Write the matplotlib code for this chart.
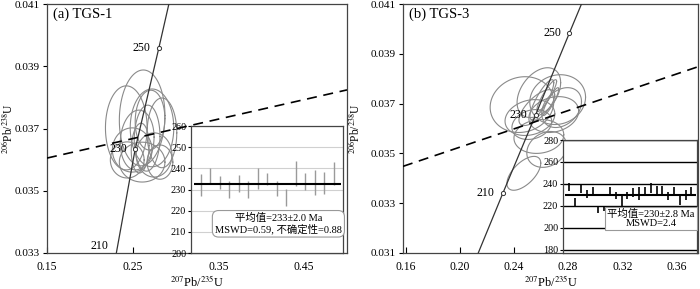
import numpy as np
import matplotlib
matplotlib.use('Agg')
import matplotlib.pyplot as plt

plt.rcParams['font.family'] = ['Liberation Serif', 'Noto Sans CJK SC']
plt.rcParams['mathtext.fontset'] = 'stix'

# === DATA ===
# panel (a) TGS-1
conc_a_x = [0.2309, 0.2529, 0.2806, 0.2922]
conc_a_y = [0.0330, 0.03634, 0.0396, 0.0410]
conc_a_age = [210, 230, 250, None]
disc_a_x = [0.15, 0.50]
disc_a_y = [0.03605, 0.03824]
ell_a_cx = [0.2610, 0.2425, 0.2725, 0.2841, 0.2552, 0.2668, 0.2494, 0.2749, 0.2610, 0.2436, 0.2818, 0.2587, 0.2702]
ell_a_cy = [0.03734, 0.03702, 0.03702, 0.03686, 0.03663, 0.03669, 0.03631, 0.03615, 0.03592, 0.03599, 0.03592, 0.03637, 0.03727]
ell_a_sx = [0.0266, 0.0243, 0.0254, 0.0173, 0.0197, 0.0150, 0.0231, 0.0208, 0.0266, 0.0197, 0.0150, 0.0104, 0.0173]
ell_a_sy = [0.00154, 0.00135, 0.00125, 0.00112, 0.00096, 0.00106, 0.00071, 0.00071, 0.00064, 0.00058, 0.00055, 0.0008, 0.00096]
ell_a_rho = [0.05, 0.0, 0.0, 0.0, 0.1, 0.05, 0.0, 0.0, 0.0, 0.0, 0.0, 0.1, 0.05]
age_a_hi = [237.3, 240.0, 236.5, 234.1, 236.8, 234.1, 240.0, 238.0, 234.1, 230.2, 243.6, 238.0, 239.3, 238.4, 243.1]
age_a_lo = [227.0, 232.5, 230.2, 226.2, 228.6, 226.2, 230.2, 232.0, 227.0, 222.3, 231.7, 229.7, 227.3, 228.1, 232.0]
mean_a = 232.7
text_a = '平均值=233±2.0 Ma\nMSWD=0.59, 不确定性=0.88'

# panel (b) TGS-3
conc_b_x = [0.2136, 0.2317, 0.2561, 0.2810, 0.2899]
conc_b_y = [0.0310, 0.03339, 0.03656, 0.03984, 0.0410]
conc_b_age = [None, 210, 230, 250, None]
disc_b_x = [0.158, 0.376]
disc_b_y = [0.03448, 0.03848]
ell_b_cx = [0.2459, 0.2723, 0.2584, 0.2606, 0.2642, 0.2672, 0.2569, 0.2518, 0.2694, 0.2584, 0.2642, 0.2473, 0.2532, 0.2752]
ell_b_cy = [0.03696, 0.03716, 0.03744, 0.03716, 0.03732, 0.03708, 0.03684, 0.03644, 0.03656, 0.03568, 0.03516, 0.0342, 0.03616, 0.03684]
ell_b_sx = [0.0235, 0.0206, 0.0161, 0.0088, 0.0073, 0.0059, 0.0132, 0.0184, 0.0184, 0.0184, 0.0147, 0.0125, 0.0147, 0.0147]
ell_b_sy = [0.00112, 0.0010, 0.0010, 0.0008, 0.00064, 0.00056, 0.00072, 0.00072, 0.00072, 0.00068, 0.00072, 0.00068, 0.0006, 0.0008]
ell_b_rho = [0.1, 0.1, 0.4, 0.85, 0.9, 0.9, 0.7, 0.2, 0.2, 0.1, 0.2, 0.6, 0.2, 0.3]
age_b_hi = [240.6, 227.0, 239.0, 234.5, 237.6, 220.0, 220.0, 237.6, 233.0, 230.0, 233.0, 236.0, 237.0, 237.6, 240.6, 238.5, 238.5, 233.0, 237.6, 230.0, 234.5, 237.6]
age_b_lo = [233.6, 219.4, 231.5, 227.0, 230.0, 213.3, 215.0, 230.6, 226.4, 219.4, 226.4, 228.5, 225.5, 230.6, 231.5, 230.6, 230.6, 225.5, 230.0, 221.0, 225.5, 230.0]
mean_b = 230.0
text_b = '平均值=230±2.8 Ma\nMSWD=2.4'


def draw_ellipses(ax, cx, cy, sx, sy, rho):
    t = np.linspace(0, 2 * np.pi, 120)
    for x0, y0, a, b, r in zip(cx, cy, sx, sy, rho):
        x = x0 + a * np.cos(t)
        y = y0 + b * (r * np.cos(t) + np.sqrt(1 - r * r) * np.sin(t))
        ax.plot(x, y, color='#8a8a8a', lw=0.8, zorder=2)


def draw_main(ax, conc_x, conc_y, ages, disc_x, disc_y, ell, xlim, ylim, xticks, yticks, title, ylab_x):
    draw_ellipses(ax, *ell)
    ax.plot(conc_x, conc_y, color='#333333', lw=0.9, zorder=3)
    for x, y, age in zip(conc_x, conc_y, ages):
        if age is None:
            continue
        at_edge = y <= ylim[0] + 1e-9
        if not at_edge:
            ax.plot(x, y, 'o', ms=3, mfc='white', mec='#333333', mew=0.7, zorder=4)
        ax.annotate(str(age), (x, y), xytext=(-6, 5 if at_edge else 0), textcoords='offset points',
                    ha='right', va='center', fontsize=8.6, zorder=4)
    ax.plot(disc_x, disc_y, color='black', lw=1.2, ls=(0, (6, 4)), zorder=3)
    ax.set_xlim(*xlim)
    ax.set_ylim(*ylim)
    ax.set_xticks(xticks)
    ax.set_xticklabels([f'{v:.2f}' for v in xticks])
    ax.set_yticks(yticks)
    ax.set_yticklabels([f'{v:.3f}' for v in yticks])
    ax.tick_params(axis='x', direction='in', length=4, pad=6, labelsize=8.4)
    ax.tick_params(axis='y', direction='out', length=3, pad=2, labelsize=8.1)
    ax.set_xlabel(r'$^{207}$Pb/$^{235}$U', fontsize=8.8)
    ax.set_ylabel(r'$^{206}$Pb/$^{238}$U', fontsize=8.3)
    ax.xaxis.set_label_coords(0.5, -0.085)
    ax.yaxis.set_label_coords(ylab_x, 0.5)
    for s in ax.spines.values():
        s.set_color('#444444')
        s.set_linewidth(0.9)
    ax.text(0.02, 0.985, title, transform=ax.transAxes, ha='left', va='top', fontsize=10.5)


def draw_inset(ax, hi, lo, mean, ylim, yticks, bar_color, grid_color, grid_lw, text, tx, ty, boxstyle):
    n = len(hi)
    idx = np.arange(1, n + 1)
    for g in yticks:
        ax.axhline(g, color=grid_color, lw=grid_lw, zorder=1)
    ax.vlines(idx, lo, hi, color=bar_color, lw=1.0 if bar_color != 'black' else 1.2, zorder=2)
    ax.hlines(mean, 0.3, n + 0.7, color='black', lw=1.5, zorder=3)
    ax.set_xlim(0 - 0.05 * n / 15, n + 0.95)
    ax.set_ylim(*ylim)
    ax.set_xticks([])
    ax.set_yticks(yticks)
    ax.tick_params(axis='y', direction='out', length=2, pad=1.5, labelsize=7.3)
    for s in ax.spines.values():
        s.set_color('#444444')
        s.set_linewidth(0.9)
    ax.text(tx, ty, text, transform=ax.transAxes, ha='center', va='center', fontsize=7.5,
            linespacing=1.05, zorder=5,
            bbox=dict(boxstyle=boxstyle, fc='white', ec='#999999', lw=0.8))


fig = plt.figure(figsize=(7.0, 2.89), dpi=100)
W, H = 700, 289

ax_a = fig.add_axes([47 / W, 36 / H, 300 / W, 249 / H])
draw_main(ax_a, conc_a_x, conc_a_y, conc_a_age, disc_a_x, disc_a_y,
          (ell_a_cx, ell_a_cy, ell_a_sx, ell_a_sy, ell_a_rho),
          (0.15, 0.50), (0.033, 0.041), [0.15, 0.25, 0.35, 0.45],
          [0.033, 0.035, 0.037, 0.039, 0.041], '(a) TGS-1', -0.108)

ax_b = fig.add_axes([403 / W, 36 / H, 295 / W, 249 / H])
draw_main(ax_b, conc_b_x, conc_b_y, conc_b_age, disc_b_x, disc_b_y,
          (ell_b_cx, ell_b_cy, ell_b_sx, ell_b_sy, ell_b_rho),
          (0.158, 0.376), (0.031, 0.041), [0.16, 0.20, 0.24, 0.28, 0.32, 0.36],
          [0.031, 0.033, 0.035, 0.037, 0.039, 0.041], '(b) TGS-3', -0.14)

in_a = fig.add_axes([191 / W, 36 / H, 152 / W, 127 / H])
in_a.set_zorder(5)
draw_inset(in_a, age_a_hi, age_a_lo, mean_a, (200, 260), [200, 210, 220, 230, 240, 250, 260],
           '#9a9a9a', '#d0d0d0', 0.8, text_a, 0.575, 0.23, 'round,pad=0.25,rounding_size=0.6')

in_b = fig.add_axes([563 / W, 36 / H, 134 / W, 113 / H])
in_b.set_zorder(5)
draw_inset(in_b, age_b_hi, age_b_lo, mean_b, (177, 280), [180, 200, 220, 240, 260, 280],
           'black', 'black', 1.0, text_b, 0.655, 0.305, 'square,pad=0.2')

fig.savefig('out.png', dpi=100)
